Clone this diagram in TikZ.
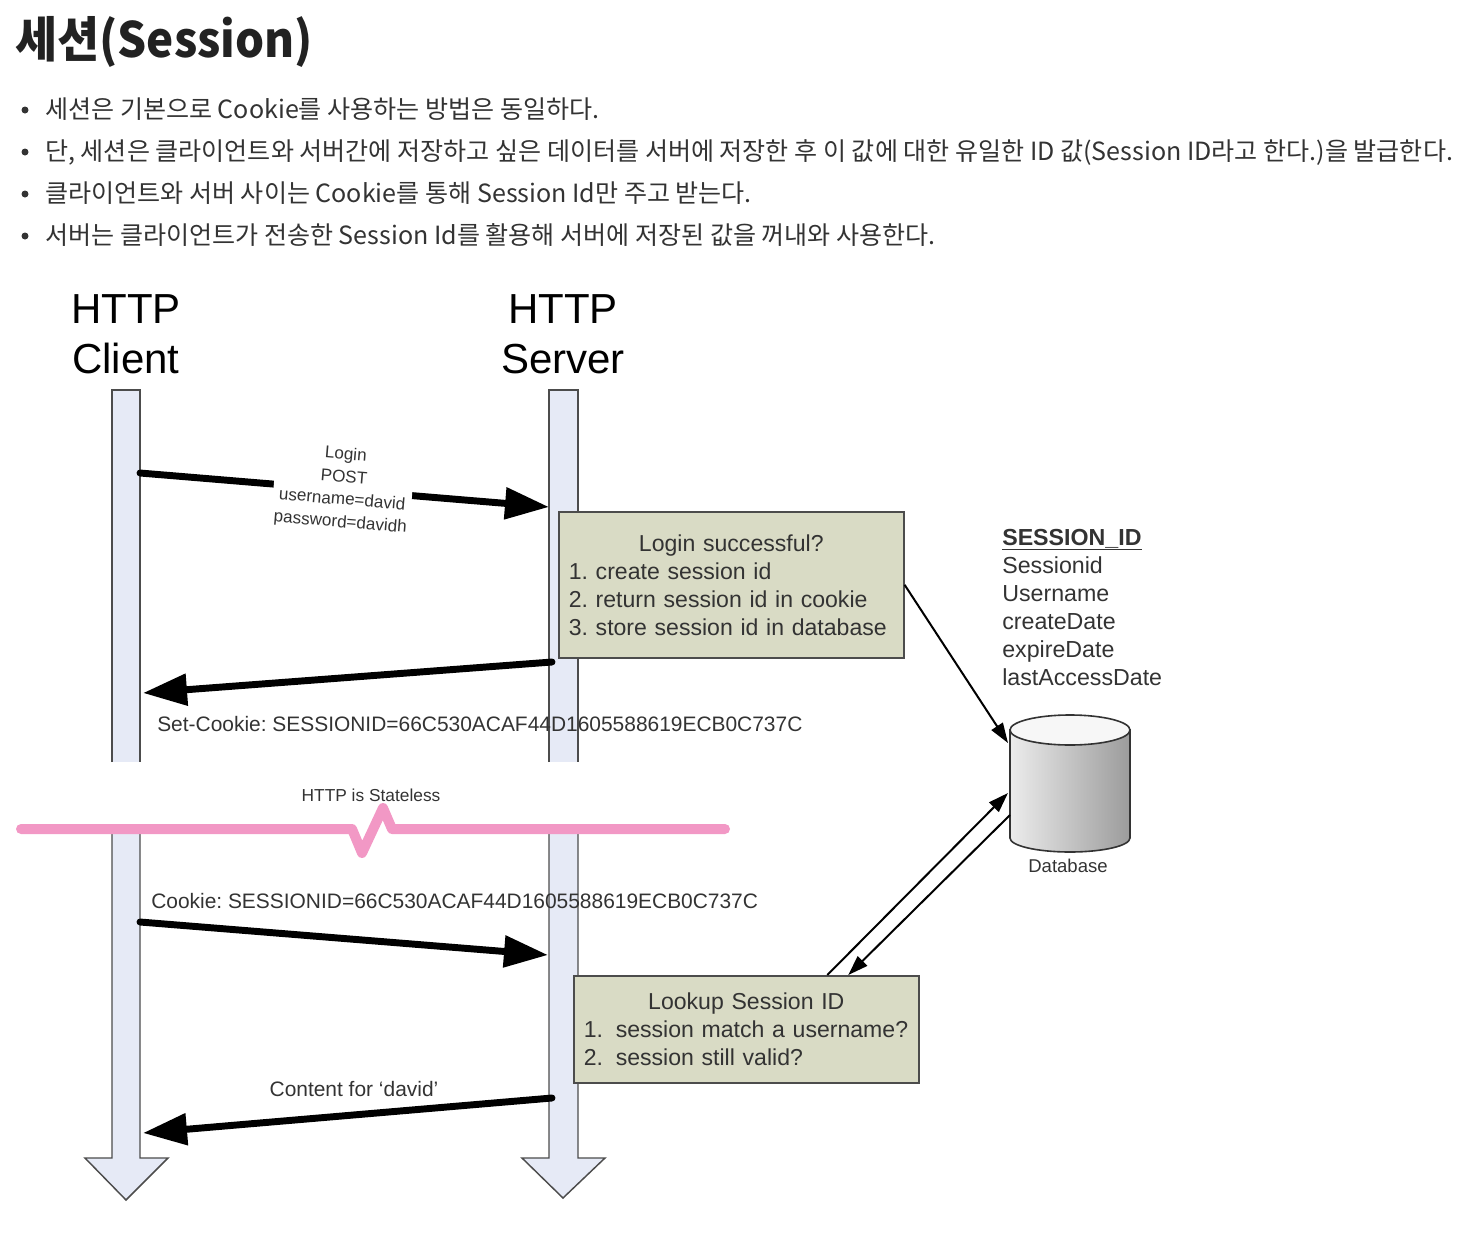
\documentclass[tikz,border=0pt]{standalone}
\usepackage{fontspec}
\setmainfont{Liberation Sans}
\newfontfamily\kr{Noto Sans CJK KR}
\newfontfamily\krtitle[FakeStretch=0.94]{Noto Sans CJK KR}
\usetikzlibrary{arrows.meta,calc}
\definecolor{lanefill}{RGB}{230,234,246}
\definecolor{boxfill}{RGB}{217,219,197}
\definecolor{pinkline}{RGB}{242,152,197}
\definecolor{inkgray}{RGB}{51,51,51}
\definecolor{titlegray}{RGB}{34,34,34}
\frenchspacing

\begin{document}
\begin{tikzpicture}[x=0.75pt,y=-0.75pt,
    lane/.style={draw=black!70,fill=lanefill,line width=1.1pt},
    msg/.style={line width=5.2pt,line cap=round,-{Triangle[length=33pt,width=23pt]}},
    link/.style={line width=1.5pt,-{Triangle[length=15pt,width=10pt]}},
    stepbox/.style={draw=black!70,fill=boxfill,line width=1.2pt,inner xsep=7.5pt,inner ysep=0pt,
      text width=243.75pt,align=left,text=inkgray,anchor=north west,font=\fontsize{17.3}{21}\selectfont},
    lbl/.style={inner sep=0pt,text=inkgray,font=\fontsize{15.7}{18}\selectfont},
    small/.style={inner sep=0pt,text=inkgray,font=\fontsize{13}{16.5}\selectfont},
    head/.style={inner sep=0pt,align=center,anchor=north,font=\fontsize{31.5}{37.5}\selectfont},
    field/.style={inner sep=0pt,anchor=base west,text=inkgray,font=\fontsize{17.4}{21}\selectfont},
    bullet text/.style={inner sep=0pt,anchor=base west,text=inkgray,font=\kr\fontsize{18.8}{21}\selectfont}]
  \useasboundingbox (0,0) rectangle (1475,1249);

  % title and notes
  \node[anchor=base west,inner sep=0pt,text=titlegray,font=\krtitle\bfseries\fontsize{36.5}{40}\selectfont] (title) at (15,57) {세션(Session)};
  \foreach \txt [count=\i] in {{세션은 기본으로 Cookie를 사용하는 방법은 동일하다.},
      {단, 세션은 클라이언트와 서버간에 저장하고 싶은 데이터를 서버에 저장한 후 이 값에 대한 유일한 ID 값(Session ID라고 한다.)을 발급한다.},
      {클라이언트와 서버 사이는 Cookie를 통해 Session Id만 주고 받는다.},
      {서버는 클라이언트가 전송한 Session Id를 활용해 서버에 저장된 값을 꺼내와 사용한다.}} {
    \fill[inkgray] (25,{68+42*\i}) circle[radius=3.5];
    \node[bullet text] at (45,{76+42*\i}) {\txt};
  }

  % lifelines
  \node[head] (client) at (126,294) {HTTP\\Client};
  \node[head] (server) at (563,294) {HTTP\\Server};
  \fill[lanefill] (112,390) rectangle (140,762);
  \fill[lanefill] (549,390) rectangle (578,762);
  \draw[lane,fill=none] (112,762) -- (112,390) -- (140,390) -- (140,762);
  \draw[lane,fill=none] (549,762) -- (549,390) -- (578,390) -- (578,762);
  \draw[lane] (112,832) -- (112,1158) -- (85,1158) -- (126,1200) -- (168,1158) -- (140,1158) -- (140,832);
  \draw[lane] (549,832) -- (549,1158) -- (522,1158) -- (563,1198) -- (605,1158) -- (578,1158) -- (578,832);

  \coordinate (c1) at (140,473);
  \coordinate (s1) at (549,507);
  \coordinate (s2) at (552,662);
  \coordinate (c2) at (143,693);
  \coordinate (c3) at (140,922);
  \coordinate (s3) at (548,955);
  \coordinate (s4) at (552,1098);
  \coordinate (c4) at (143,1133);

  % first request
  \draw[msg] (c1) -- (s1);
  \node[small,fill=white,inner sep=2pt,align=center,rotate=-4.7,font=\fontsize{12.8}{17}\selectfont] (login msg) at (343,489)
    {Login\\POST\\username=david\\password=davidh};
  \node[stepbox,minimum height=109.5pt] (login ok) at (558,511)
    {\makebox[243.75pt]{Login successful?}\\1. create session id\\2. return session id in cookie\\3. store session id in database};
  \draw[msg] (s2) -- (c2);
  \node[lbl,anchor=base west] (set cookie) at (157,731) {Set-Cookie: SESSIONID=66C530ACAF44D1605588619ECB0C737C};

  % stateless break
  \draw[pinkline,line width=7.5pt,line cap=round,line join=round]
    (21,829) -- (352,829) -- (362,853) -- (383,808) -- (392,829) -- (725,829);
  \node[small,anchor=base] (stateless) at (371,801) {HTTP is Stateless};

  % second request
  \node[lbl,anchor=base west] (cookie) at (151,908) {Cookie: SESSIONID=66C530ACAF44D1605588619ECB0C737C};
  \draw[msg] (c3) -- (s3);
  \node[stepbox,minimum height=80.25pt] (lookup) at (573,975)
    {\makebox[243.75pt]{Lookup Session ID}\\\makebox[24pt][l]{1.}session match a username?\\\makebox[24pt][l]{2.}session still valid?};
  \draw[msg] (s4) -- (c4);
  \node[lbl,anchor=base] (content) at (354,1096) {Content for `david'};

  % database
  \shade[left color=gray!15,right color=gray!78,draw=black!80,line width=1.2pt]
    (1010,730) -- (1010,838) arc[start angle=180,end angle=0,x radius=60,y radius=14] -- (1130,730) -- cycle;
  \draw[fill=gray!6,draw=black!80,line width=1.2pt] (1070,730) ellipse[x radius=60,y radius=15];
  \node[small,anchor=base,font=\fontsize{13.9}{16}\selectfont] (database) at (1068,872) {Database};
  \node[field,font=\bfseries\fontsize{17.4}{21}\selectfont] (table) at (1002,545) {\underline{SESSION\_ID}};
  \foreach \col [count=\i] in {Sessionid,Username,createDate,expireDate,lastAccessDate}
    \node[field] at (1002,{545+28*\i}) {\col};

  \coordinate (db in1) at (1008,743);
  \coordinate (db in2) at (1008,793);
  \coordinate (db out) at (1010,815);
  \coordinate (lk out) at ($(lookup.north)+(81,0)$);
  \coordinate (lk in) at ($(lookup.north)+(102,0)$);
  \draw[link] (login ok.east) -- (db in1);
  \draw[link] (lk out) -- (db in2);
  \draw[link] (db out) -- (lk in);
\end{tikzpicture}
\end{document}
